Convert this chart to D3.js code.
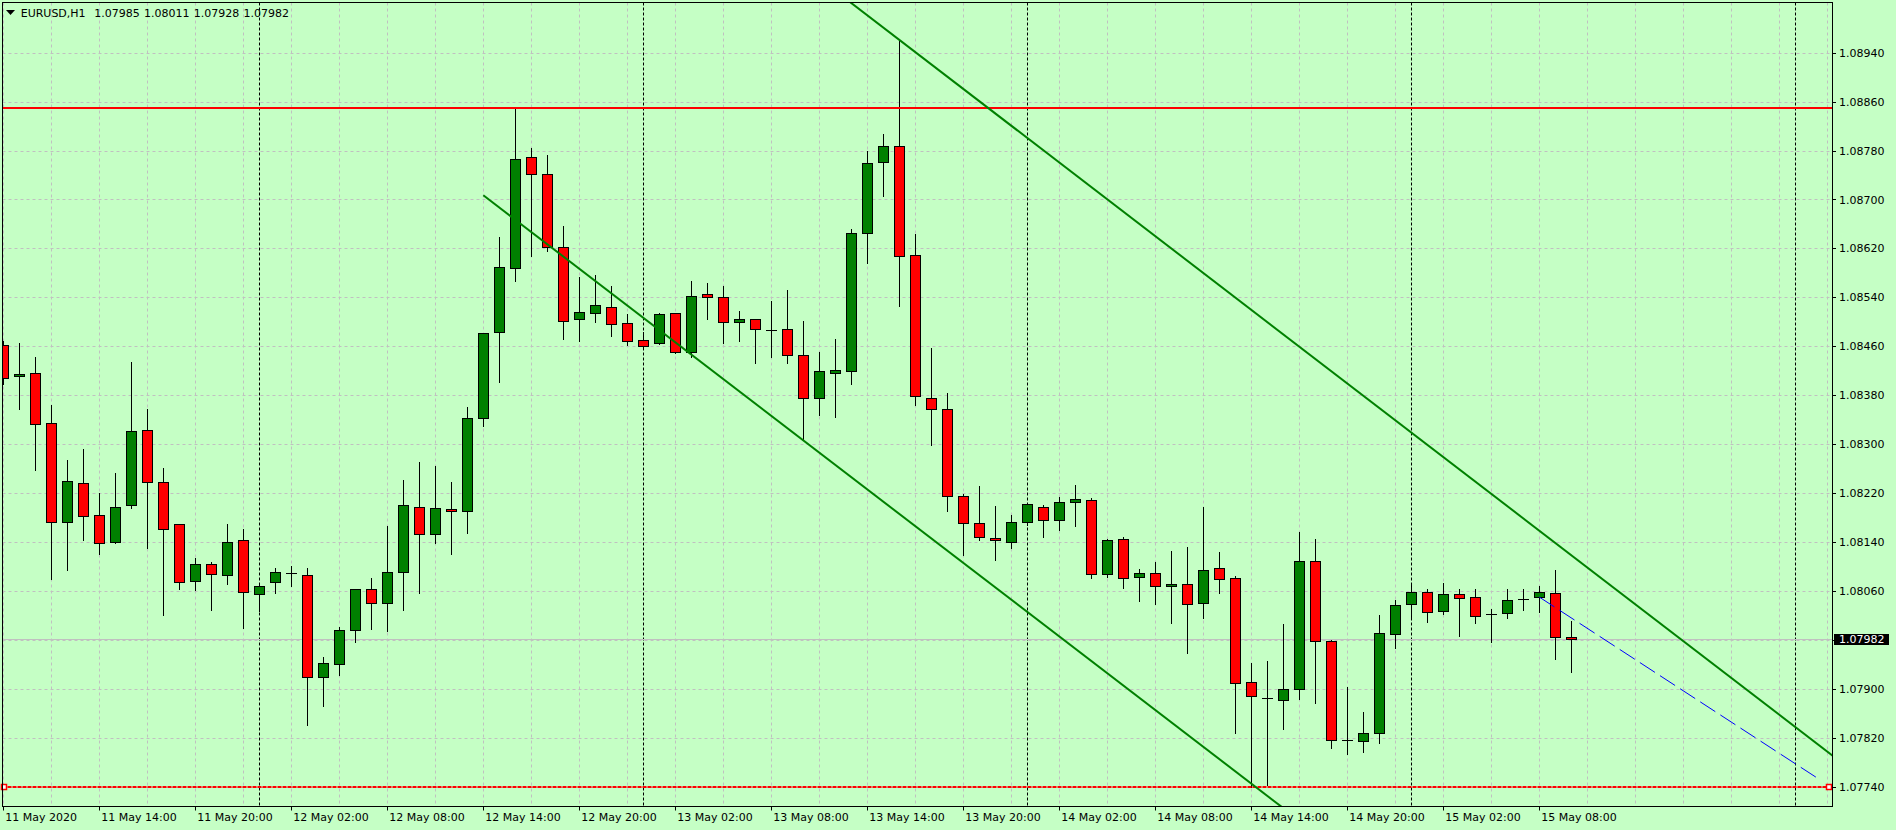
<!DOCTYPE html>
<html><head><meta charset="utf-8">
<script src="https://cdn.jsdelivr.net/npm/d3@7"></script>
<style>html,body{margin:0;padding:0;background:#c5ffc5;overflow:hidden}</style>
</head><body><svg id="c" width="1896" height="830"></svg>
<script>
// ---------- DATA ----------
const symbolTitle = "EURUSD,H1";
const openP = [1.08462,1.08411,1.08416,1.08334,1.08172,1.08236,1.08184,1.08140,1.08200,1.08323,
1.08238,1.08169,1.08076,1.08104,1.08086,1.08143,1.08055,1.08074,1.08089,1.08086,
1.07919,1.07941,1.07996,1.08063,1.08040,1.08091,1.08198,1.08153,1.08194,1.08190,
1.08342,1.08483,1.08588,1.08769,1.08741,1.08622,1.08504,1.08514,1.08525,1.08498,
1.08471,1.08465,1.08514,1.08450,1.08545,1.08540,1.08499,1.08504,1.08487,1.08488,
1.08445,1.08376,1.08417,1.08420,1.08646,1.08762,1.08787,1.08609,1.08376,1.08357,
1.08215,1.08171,1.08147,1.08140,1.08172,1.08198,1.08176,1.08205,1.08208,1.08087,
1.08145,1.08083,1.08089,1.08068,1.08071,1.08040,1.08097,1.08081,1.07911,1.07885,
1.07881,1.07899,1.08109,1.07979,1.07817,1.07814,1.07827,1.07990,1.08038,1.08059,
1.08028,1.08055,1.08050,1.08023,1.08024,1.08047,1.08050,1.08056,1.07985];
const highP = [1.08469,1.08465,1.08443,1.08364,1.08274,1.08292,1.08220,1.08253,1.08434,1.08358,
1.08261,1.08170,1.08114,1.08107,1.08170,1.08161,1.08072,1.08098,1.08100,1.08097,
1.07952,1.08001,1.08064,1.08081,1.08167,1.08241,1.08271,1.08264,1.08238,1.08361,
1.08482,1.08638,1.08849,1.08784,1.08772,1.08657,1.08574,1.08576,1.08558,1.08512,
1.08483,1.08514,1.08515,1.08567,1.08563,1.08558,1.08518,1.08505,1.08534,1.08552,
1.08501,1.08451,1.08472,1.08651,1.08780,1.08807,1.08961,1.08644,1.08458,1.08383,
1.08218,1.08231,1.08199,1.08184,1.08203,1.08201,1.08213,1.08233,1.08212,1.08145,
1.08148,1.08096,1.08107,1.08125,1.08132,1.08197,1.08124,1.08084,1.07942,1.07946,
1.08006,1.08156,1.08145,1.07980,1.07903,1.07862,1.08021,1.08045,1.08071,1.08064,
1.08073,1.08064,1.08064,1.08030,1.08064,1.08063,1.08068,1.08094,1.08011];
const lowP = [1.08398,1.08358,1.08258,1.08080,1.08095,1.08143,1.08120,1.08138,1.08195,1.08131,
1.08021,1.08064,1.08062,1.08029,1.08072,1.08000,1.08028,1.08057,1.08068,1.07841,
1.07872,1.07923,1.07977,1.07998,1.07995,1.08029,1.08056,1.08139,1.08120,1.08154,
1.08330,1.08401,1.08566,1.08608,1.08615,1.08472,1.08468,1.08499,1.08477,1.08462,
1.08459,1.08464,1.08449,1.08442,1.08505,1.08466,1.08469,1.08433,1.08442,1.08432,
1.08308,1.08348,1.08344,1.08399,1.08597,1.08706,1.08526,1.08364,1.08299,1.08191,
1.08119,1.08144,1.08110,1.08131,1.08168,1.08149,1.08160,1.08167,1.08082,1.08083,
1.08065,1.08044,1.08039,1.08008,1.07959,1.08015,1.08057,1.07827,1.07740,1.07742,
1.07835,1.07884,1.07877,1.07804,1.07794,1.07796,1.07811,1.07967,1.08015,1.08010,
1.08023,1.07987,1.08008,1.07977,1.08016,1.08029,1.08026,1.07949,1.07928];
const closeP = [1.08408,1.08414,1.08333,1.08173,1.08239,1.08183,1.08138,1.08197,1.08321,1.08238,
1.08161,1.08074,1.08104,1.08087,1.08140,1.08058,1.08068,1.08091,1.08089,1.07919,
1.07942,1.07996,1.08063,1.08040,1.08091,1.08200,1.08153,1.08195,1.08190,1.08342,
1.08481,1.08589,1.08767,1.08741,1.08622,1.08501,1.08516,1.08527,1.08496,1.08468,
1.08461,1.08512,1.08450,1.08543,1.08541,1.08500,1.08504,1.08489,1.08487,1.08446,
1.08375,1.08419,1.08421,1.08646,1.08759,1.08787,1.08608,1.08378,1.08357,1.08215,
1.08171,1.08148,1.08143,1.08172,1.08202,1.08176,1.08205,1.08210,1.08088,1.08143,
1.08082,1.08089,1.08068,1.08071,1.08038,1.08094,1.08079,1.07909,1.07889,1.07885,
1.07899,1.08109,1.07979,1.07816,1.07817,1.07827,1.07991,1.08037,1.08059,1.08026,
1.08055,1.08048,1.08019,1.08023,1.08046,1.08047,1.08058,1.07984,1.07982];

const timeTickBars = [0,6,12,18,24,30,36,42,48,54,60,66,72,78,84,90,96];
const timeTickLabels = ["11 May 2020","11 May 14:00","11 May 20:00","12 May 02:00","12 May 08:00",
"12 May 14:00","12 May 20:00","13 May 02:00","13 May 08:00","13 May 14:00","13 May 20:00",
"14 May 02:00","14 May 08:00","14 May 14:00","14 May 20:00","15 May 02:00","15 May 08:00"];
const priceTicks = [1.07740,1.07820,1.07900,1.07980,1.08060,1.08140,1.08220,1.08300,
1.08380,1.08460,1.08540,1.08620,1.08700,1.08780,1.08860,1.08940];
const separatorBars = [16,40,64,88,112];
const bidPrice = 1.07982;
const horizontalLevels = [1.08849, 1.07740];
const channelUpper = [[56,1.08961],[106,1.07958]];
const channelLower = [[30,1.08707],[80,1.07705]];
const blueSegment = [[96,1.08050],[113.5,1.07752]];

// ---------- LAYOUT ----------
const W = 1896, H = 830;
const pL = 2.5, pR = 1832.5, pT = 2.5, pB = 806.5;
const BG = "#c5ffc5", GRID = "#c0c0c0";
const FONT = "DejaVu Sans";

const svg = d3.select("#c");
const x = d3.scaleLinear().domain([0,100]).range([3.3,1603.3]);
const y = d3.scaleLinear().domain([1.0774,1.0894]).range([786.7,52.7]);
const cx = i => Math.round(x(i)) + 0.5;
const cy = p => Math.round(y(p)) + 0.5;

svg.append("rect").attr("width",W).attr("height",H).attr("fill",BG);
svg.append("defs").append("clipPath").attr("id","plot")
  .append("rect").attr("x",pL).attr("y",pT).attr("width",pR-pL).attr("height",pB-pT);

const plot = svg.append("g").attr("clip-path","url(#plot)");

// grid
plot.append("g").selectAll("line").data(d3.range(0,115,3)).join("line")
  .attr("x1",d=>cx(d)).attr("x2",d=>cx(d)).attr("y1",pT).attr("y2",pB)
  .attr("stroke",GRID).attr("stroke-dasharray","3,3");
plot.append("g").selectAll("line").data(priceTicks).join("line")
  .attr("x1",pL).attr("x2",pR).attr("y1",d=>cy(d)).attr("y2",d=>cy(d))
  .attr("stroke",GRID).attr("stroke-dasharray","3,3");
// period separators
plot.append("g").selectAll("line").data(separatorBars).join("line")
  .attr("x1",d=>cx(d)).attr("x2",d=>cx(d)).attr("y1",pT).attr("y2",pB)
  .attr("stroke","#000").attr("stroke-dasharray","3,2");
// bid line
plot.append("line").attr("x1",pL).attr("x2",pR).attr("y1",cy(bidPrice)).attr("y2",cy(bidPrice))
  .attr("stroke",GRID);

// candles
const bars = openP.map((o,i)=>({i,o,h:highP[i],l:lowP[i],c:closeP[i]}));
const cg = plot.append("g");
bars.forEach(b=>{
  const X = cx(b.i);
  cg.append("line").attr("x1",X).attr("x2",X).attr("y1",cy(b.h)-0.5).attr("y2",cy(b.l)+0.5)
    .attr("stroke","#000");
  const top = cy(Math.max(b.o,b.c)), bot = cy(Math.min(b.o,b.c));
  if (b.o === b.c) {
    cg.append("rect").attr("x",X-5).attr("y",top).attr("width",10).attr("height",0.01)
      .attr("fill","#000").attr("stroke","#000");
  } else {
    cg.append("rect").attr("x",X-5).attr("y",top).attr("width",10).attr("height",Math.max(bot-top,1))
      .attr("fill", b.c > b.o ? "#008000" : "#ff0000").attr("stroke","#000");
  }
});

// horizontal levels
horizontalLevels.forEach((p,k)=>{
  plot.append("line").attr("x1",pL).attr("x2",pR).attr("y1",Math.round(y(p))).attr("y2",Math.round(y(p)))
    .attr("stroke","#ff0000").attr("stroke-width",2)
    .attr("stroke-dasharray", k===1 ? "4,1" : null);
});
// trend lines
const lineAt = (a,b) => t => a[1] + (b[1]-a[1])*(t-a[0])/(b[0]-a[0]);
const upF = lineAt(channelUpper[0],channelUpper[1]);
const loF = lineAt(channelLower[0],channelLower[1]);
plot.append("line").attr("x1",x(45)).attr("y1",y(upF(45))).attr("x2",x(120)).attr("y2",y(upF(120)))
  .attr("stroke","#008000").attr("stroke-width",2);
plot.append("line").attr("x1",x(channelLower[0][0])).attr("y1",y(channelLower[0][1]))
  .attr("x2",x(100)).attr("y2",y(loF(100)))
  .attr("stroke","#008000").attr("stroke-width",2);
plot.append("line").attr("x1",x(blueSegment[0][0])).attr("y1",y(blueSegment[0][1]))
  .attr("x2",x(blueSegment[1][0])).attr("y2",y(blueSegment[1][1]))
  .attr("stroke","#0000ff").attr("stroke-width",1).attr("stroke-dasharray","18,6");

// handles of selected level
[pL+1, pR-4].forEach(hx=>{
  svg.append("rect").attr("x",Math.round(hx)-2.5).attr("y",Math.round(y(horizontalLevels[1]))-2.5)
    .attr("width",5).attr("height",5).attr("fill","#ffffff").attr("stroke","#ff0000").attr("stroke-width",1.5);
});

// frame
svg.append("rect").attr("x",pL).attr("y",pT).attr("width",pR-pL).attr("height",pB-pT)
  .attr("fill","none").attr("stroke","#000");

// right price axis
const ya = svg.append("g");
ya.selectAll("line").data(priceTicks).join("line")
  .attr("x1",pR).attr("x2",pR+3.5).attr("y1",d=>cy(d)).attr("y2",d=>cy(d)).attr("stroke","#000");
ya.selectAll("text").data(priceTicks.filter(p=>Math.abs(y(p)-y(bidPrice))>9)).join("text")
  .attr("x",1839).attr("y",d=>y(d)+4).attr("font-family",FONT).attr("font-size",11)
  .attr("fill","#000").text(d=>d.toFixed(5));
ya.append("rect").attr("x",1834).attr("y",Math.round(y(bidPrice))-5).attr("width",55).attr("height",11).attr("fill","#000");
ya.append("text").attr("x",1839).attr("y",y(bidPrice)+4).attr("font-family",FONT).attr("font-size",11)
  .attr("fill","#fff").text(bidPrice.toFixed(5));

// bottom time axis
const xa = svg.append("g");
xa.selectAll("line").data(timeTickBars).join("line")
  .attr("x1",d=>cx(d)).attr("x2",d=>cx(d)).attr("y1",pB).attr("y2",pB+4).attr("stroke","#000");
xa.selectAll("text").data(timeTickBars).join("text")
  .attr("x",d=>x(d)+2).attr("y",820.5).attr("font-family",FONT).attr("font-size",11)
  .attr("fill","#000").text((d,k)=>timeTickLabels[k]);

// title
const last = bars[bars.length-1];
svg.append("path").attr("d","M6,10 L15,10 L10.5,15 Z").attr("fill","#000");
const tt = svg.append("text").attr("y",16.5).attr("font-family",FONT).attr("font-size",11).attr("fill","#000");
const parts = [symbolTitle, last.o.toFixed(5), last.h.toFixed(5), last.l.toFixed(5), last.c.toFixed(5)];
const px = [20.7, 94.3, 144, 193.7, 243.4];
parts.forEach((s,k)=>tt.append("tspan").attr("x",px[k]).text(s));
</script></body></html>
